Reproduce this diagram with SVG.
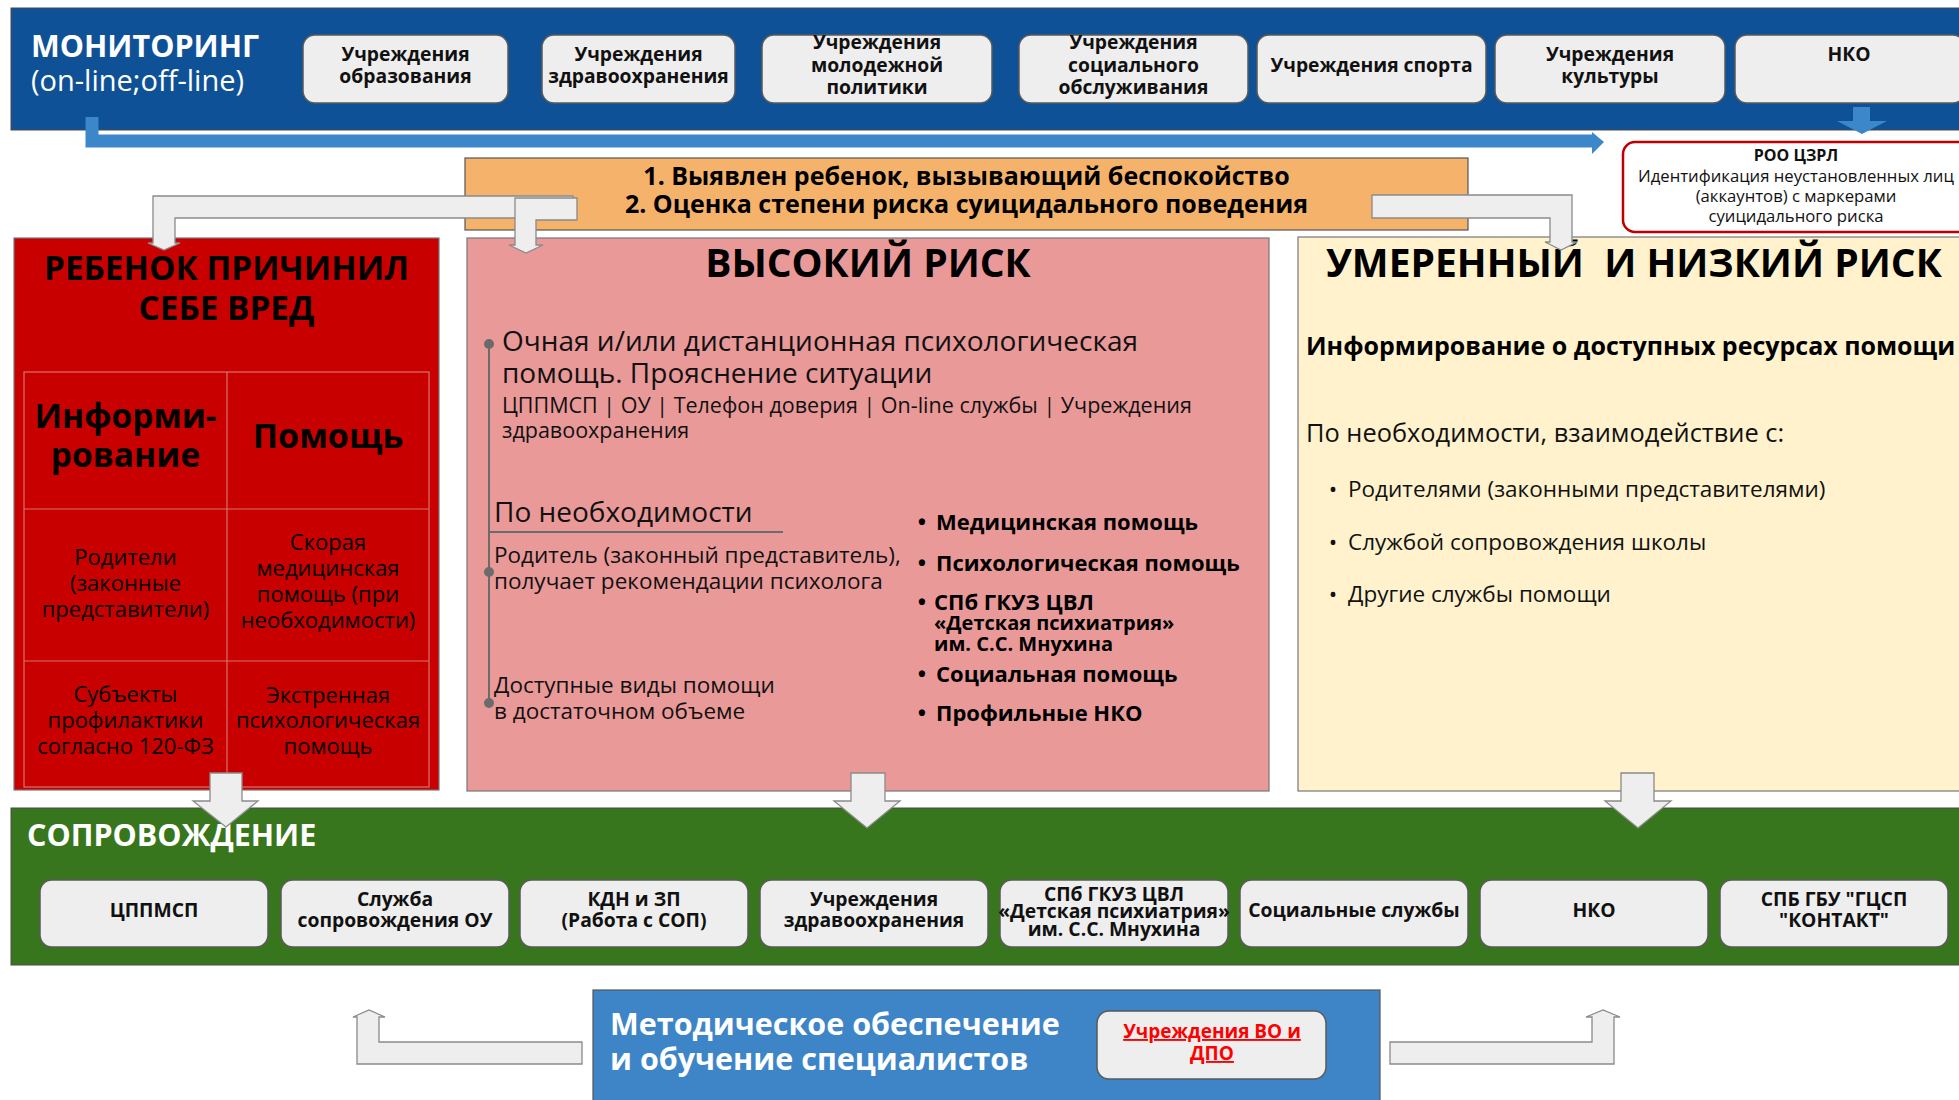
<svg xmlns="http://www.w3.org/2000/svg" width="1959" height="1100" viewBox="0 0 1959 1100">
<style>
text{font-family:"Open Sans","Noto Sans","DejaVu Sans",sans-serif}
.b{font-weight:700}
.w{fill:#fff}
.k{fill:#000}
.d{fill:#111}
.c{text-anchor:middle}
.gbox{fill:#eeeeee;stroke:#5a5a5a;stroke-width:1.5}
.garr{fill:#eeeeee;stroke:#8a8a8a;stroke-width:1.3}
.bx{font-size:19.3px;font-weight:700;fill:#111;text-anchor:middle}
.grid{stroke:#d97070;stroke-width:1.2;fill:none}
</style>

<g id="monitoring">
<rect x="11" y="8" width="1960" height="122" fill="#0f5196" stroke="#4a4a4a" stroke-width="1"/>
<text x="31" y="57" class="b w" font-size="30.5">МОНИТОРИНГ</text>
<text x="31" y="91" class="w" font-size="29">(on-line;off-line)</text>
</g>

<g id="mon-box-1"><rect class="gbox" x="303" y="35" width="205" height="68" rx="12"/>
<text class="bx" x="405.5" y="61">Учреждения</text><text class="bx" x="405.5" y="83">образования</text></g>
<g id="mon-box-2"><rect class="gbox" x="542" y="35" width="193" height="68" rx="12"/>
<text class="bx" x="638.5" y="61">Учреждения</text><text class="bx" x="638.5" y="83">здравоохранения</text></g>
<g id="mon-box-3"><rect class="gbox" x="762" y="35" width="230" height="68" rx="12"/>
<text class="bx" x="877" y="49">Учреждения</text><text class="bx" x="877" y="71.5">молодежной</text><text class="bx" x="877" y="94">политики</text></g>
<g id="mon-box-4"><rect class="gbox" x="1019" y="35" width="229" height="68" rx="12"/>
<text class="bx" x="1133.5" y="49">Учреждения</text><text class="bx" x="1133.5" y="71.5">социального</text><text class="bx" x="1133.5" y="94">обслуживания</text></g>
<g id="mon-box-5"><rect class="gbox" x="1257" y="35" width="229" height="68" rx="12"/>
<text class="bx" x="1371.5" y="71.5">Учреждения спорта</text></g>
<g id="mon-box-6"><rect class="gbox" x="1495" y="35" width="230" height="68" rx="12"/>
<text class="bx" x="1610" y="61">Учреждения</text><text class="bx" x="1610" y="83">культуры</text></g>
<g id="mon-box-7"><rect class="gbox" x="1735" y="35" width="230" height="68" rx="12"/>
<text class="bx" x="1849" y="60.5">НКО</text></g>

<g id="roo">
<rect x="1623" y="142" width="360" height="90" rx="12" fill="#fff" stroke="#c00000" stroke-width="2.5"/>
<text x="1796" y="161" class="b c d" font-size="16">РОО ЦЗРЛ</text>
<text x="1796" y="182" class="c d" font-size="16.7">Идентификация неустановленных лиц</text>
<text x="1796" y="202" class="c d" font-size="16.7">(аккаунтов) с маркерами</text>
<text x="1796" y="222" class="c d" font-size="16.7">суицидального риска</text>
</g>

<g id="detect">
<rect x="465" y="158" width="1003" height="72" fill="#f5b26b" stroke="#555" stroke-width="1.2"/>
<text x="966.5" y="185" class="b c k" font-size="25">1. Выявлен ребенок, вызывающий беспокойство</text>
<text x="966.5" y="213" class="b c k" font-size="25">2. Оценка степени риска суицидального поведения</text>
</g>

<g id="self-harm">
<rect x="14" y="238" width="425" height="552" fill="#c90000" stroke="#777" stroke-width="1.2"/>
<text x="226.5" y="280" class="b c k" font-size="33.3">РЕБЕНОК ПРИЧИНИЛ</text>
<text x="226.5" y="320" class="b c k" font-size="33.3">СЕБЕ ВРЕД</text>
<rect class="grid" x="24" y="372" width="405" height="415"/>
<line class="grid" x1="227" y1="372" x2="227" y2="787"/>
<line class="grid" x1="24" y1="509" x2="429" y2="509"/>
<line class="grid" x1="24" y1="661" x2="429" y2="661"/>
<text x="125.5" y="428" class="b c k" font-size="33.5">Информи-</text>
<text x="125.5" y="467" class="b c k" font-size="33.5">рование</text>
<text x="328" y="448" class="b c k" font-size="34">Помощь</text>
<g fill="#000" font-size="22" text-anchor="middle">
<text x="125.5" y="565">Родители</text>
<text x="125.5" y="591">(законные</text>
<text x="125.5" y="617">представители)</text>
<text x="328" y="550">Скорая</text>
<text x="328" y="576">медицинская</text>
<text x="328" y="602">помощь (при</text>
<text x="328" y="628">необходимости)</text>
<text x="125.5" y="702">Субъекты</text>
<text x="125.5" y="728">профилактики</text>
<text x="125.5" y="754">согласно 120-ФЗ</text>
<text x="328" y="703">Экстренная</text>
<text x="328" y="728">психологическая</text>
<text x="328" y="754">помощь</text>
</g>
</g>

<g id="high-risk">
<rect x="467" y="238" width="802" height="553" fill="#ea9999" stroke="#777" stroke-width="1.2"/>
<text x="868" y="277" class="b c k" font-size="39">ВЫСОКИЙ РИСК</text>
<g stroke="#6b6b6b" stroke-width="2" fill="#6b6b6b">
<line x1="489" y1="344" x2="489" y2="703"/>
<line x1="489" y1="532" x2="783" y2="532"/>
<circle cx="489" cy="344" r="4"/>
<circle cx="489" cy="572" r="4"/>
<circle cx="489" cy="703" r="4"/>
</g>
<g class="d">
<text x="502" y="351" font-size="28">Очная и/или дистанционная психологическая</text>
<text x="502" y="383" font-size="28">помощь. Прояснение ситуации</text>
<text x="502" y="413" font-size="21.5">ЦППМСП | ОУ | Телефон доверия | On-line службы | Учреждения</text>
<text x="502" y="438" font-size="21.5">здравоохранения</text>
<text x="494" y="522" font-size="28">По необходимости</text>
<text x="494" y="563" font-size="22.5">Родитель (законный представитель),</text>
<text x="494" y="589" font-size="22.5">получает рекомендации психолога</text>
<text x="494" y="693" font-size="22.5">Доступные виды помощи</text>
<text x="494" y="719" font-size="22.5">в достаточном объеме</text>
</g>
<g class="b k" font-size="22">
<text x="922" y="530" text-anchor="middle">•</text><text x="936" y="530">Медицинская помощь</text>
<text x="922" y="571" text-anchor="middle">•</text><text x="936" y="571">Психологическая помощь</text>
<text x="922" y="610" text-anchor="middle">•</text><text x="934" y="610">СПб ГКУЗ ЦВЛ</text>
<text x="934" y="630" font-size="20">«Детская психиатрия»</text>
<text x="934" y="651" font-size="20">им. С.С. Мнухина</text>
<text x="922" y="682" text-anchor="middle">•</text><text x="936" y="682">Социальная помощь</text>
<text x="922" y="721" text-anchor="middle">•</text><text x="936" y="721">Профильные НКО</text>
</g>
</g>

<g id="moderate-risk">
<rect x="1298" y="237" width="700" height="554" fill="#fff2cc" stroke="#777" stroke-width="1.2"/>
<text x="1326" y="277" class="b k" font-size="39" style="white-space:pre">УМЕРЕННЫЙ  И НИЗКИЙ РИСК</text>
<text x="1306" y="355" class="b k" font-size="25">Информирование о доступных ресурсах помощи</text>
<text x="1306" y="442" class="d" font-size="25.4">По необходимости, взаимодействие с:</text>
<g class="d" font-size="22.5">
<text x="1333" y="497" text-anchor="middle">•</text><text x="1348" y="497">Родителями (законными представителями)</text>
<text x="1333" y="550" text-anchor="middle">•</text><text x="1348" y="550">Службой сопровождения школы</text>
<text x="1333" y="602" text-anchor="middle">•</text><text x="1348" y="602">Другие службы помощи</text>
</g>
</g>

<g id="support">
<rect x="11" y="808" width="1960" height="157" fill="#38761d" stroke="#4a4a4a" stroke-width="1"/>
<text x="27" y="846" class="b w" font-size="30.5">СОПРОВОЖДЕНИЕ</text>
</g>
<g id="sup-box-1"><rect class="gbox" x="40" y="880" width="228" height="67" rx="12"/>
<text class="bx" x="154" y="917">ЦППМСП</text></g>
<g id="sup-box-2"><rect class="gbox" x="281" y="880" width="228" height="67" rx="12"/>
<text class="bx" x="395" y="905.5">Служба</text><text class="bx" x="395" y="927">сопровождения ОУ</text></g>
<g id="sup-box-3"><rect class="gbox" x="520" y="880" width="228" height="67" rx="12"/>
<text class="bx" x="634" y="905.5">КДН и ЗП</text><text class="bx" x="634" y="927">(Работа с СОП)</text></g>
<g id="sup-box-4"><rect class="gbox" x="760" y="880" width="228" height="67" rx="12"/>
<text class="bx" x="874" y="905.5">Учреждения</text><text class="bx" x="874" y="927">здравоохранения</text></g>
<g id="sup-box-5"><rect class="gbox" x="1000" y="880" width="228" height="67" rx="12"/>
<text class="bx" x="1114" y="900.5" font-size="16">СПб ГКУЗ ЦВЛ</text><text class="bx" x="1114" y="918" font-size="16">«Детская психиатрия»</text><text class="bx" x="1114" y="935.5" font-size="16">им. С.С. Мнухина</text></g>
<g id="sup-box-6"><rect class="gbox" x="1240" y="880" width="228" height="67" rx="12"/>
<text class="bx" x="1354" y="917">Социальные службы</text></g>
<g id="sup-box-7"><rect class="gbox" x="1480" y="880" width="228" height="67" rx="12"/>
<text class="bx" x="1594" y="917">НКО</text></g>
<g id="sup-box-8"><rect class="gbox" x="1720" y="880" width="228" height="67" rx="12"/>
<text class="bx" x="1834" y="905.5">СПБ ГБУ "ГЦСП</text><text class="bx" x="1834" y="927">"КОНТАКТ"</text></g>

<g id="methodology">
<rect x="593" y="990" width="787" height="120" fill="#3d85c6" stroke="#555" stroke-width="1.2"/>
<text x="610" y="1035" class="b w" font-size="30.5">Методическое обеспечение</text>
<text x="610" y="1070" class="b w" font-size="30.5">и обучение специалистов</text>
</g>
<g id="vo-dpo">
<rect class="gbox" x="1097" y="1011" width="229" height="68" rx="12"/>
<text x="1212" y="1038" class="b c" font-size="19" fill="#ff0000" text-decoration="underline">Учреждения ВО и</text>
<text x="1212" y="1060" class="b c" font-size="19" fill="#ff0000" text-decoration="underline">ДПО</text>
</g>

<g id="connectors">
<path d="M92 117 V141 H1593" fill="none" stroke="#3b87ca" stroke-width="13"/>
<polygon points="1592,132 1604,142 1592,154" fill="#3b87ca"/>
<polygon points="1853,107 1870,107 1870,121 1887,121 1862,134 1837,121 1853,121" fill="#3b87ca"/>
<polygon class="garr" points="573,196 153,196 153,243 148,243 164,250 180,243 175,243 175,218 573,218"/>
<polygon class="garr" points="577,198 515,198 515,245 509,245 526,253 543,245 536,245 536,220 577,220"/>
<polygon class="garr" points="1372,195 1572,195 1572,242 1577,242 1561,250 1545,242 1550,242 1550,218 1372,218"/>
<polygon class="garr" points="210,773 242,773 242,801 258,801 226,827 193,801 210,801"/>
<polygon class="garr" points="851,773 885,773 885,801 900,801 867,828 834,801 851,801"/>
<polygon class="garr" points="1621,773 1654,773 1654,801 1671,801 1638,828 1605,801 1621,801"/>
<polygon class="garr" points="582,1042 379,1042 379,1017 385,1017 369,1010 353,1017 357,1017 357,1064 582,1064"/>
<polygon class="garr" points="1390,1042 1592,1042 1592,1017 1586,1017 1603,1010 1620,1017 1614,1017 1614,1064 1390,1064"/>
</g>
</svg>
